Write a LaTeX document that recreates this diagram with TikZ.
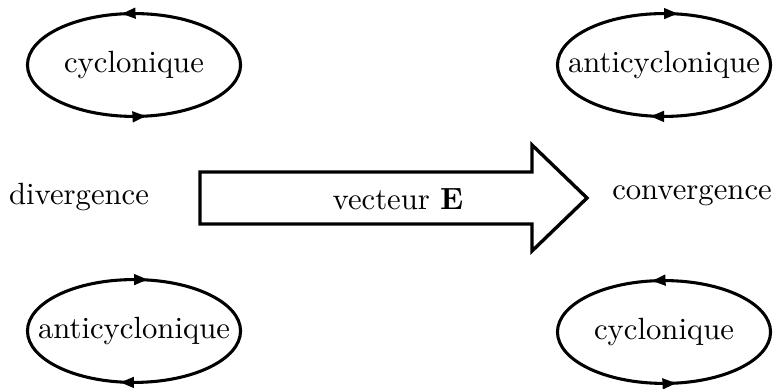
\documentclass[tikz,border=0pt]{standalone}
\usetikzlibrary{arrows.meta,decorations.markings,shapes.geometric}
\begin{document}
\begin{tikzpicture}[x=0.3257pt,y=-0.3257pt,
  vortex/.style={ellipse,draw,line width=1pt,minimum width=69.4pt,
    minimum height=33.5pt,inner sep=0pt,postaction={decorate},
    label={[inner sep=0pt]center:#1}},
  spin/.style 2 args={decoration={markings,
    mark=at position {0.25+#1} with {\arrow{#2}},
    mark=at position {0.75+#1} with {\arrow{#2}}}},
  cyclo/.style={vortex={#1},spin={0.024}{Triangle[length=4.5pt,width=3.4pt]}},
  anticyclo/.style={vortex={#1},spin={0}{Triangle[length=4.5pt,width=3.4pt,reversed]}},
  txt/.style={anchor=base,inner sep=0pt},
  bigarrow/.style={draw,line width=1.1pt,line join=miter}]
  \useasboundingbox (0,0) rectangle (773,389);

  % eddies on the divergence side
  \node[cyclo=cyclonique]         (tl) at (134,65)  {};
  \node[anticyclo=anticyclonique] (bl) at (134,331) {};
  % eddies on the convergence side
  \node[anticyclo=anticyclonique] (tr) at (664,65)  {};
  \node[cyclo=cyclonique]         (br) at (664,332) {};

  \node[txt] (div)  at (79,205)  {divergence};
  \node[txt] (conv) at (692,200) {convergence};

  % broad arrow carrying the vector label
  \coordinate (a1) at (200,172);
  \coordinate (a2) at (532,172);
  \coordinate (a3) at (532,145);
  \coordinate (a4) at (587,198);
  \coordinate (a5) at (532,251);
  \coordinate (a6) at (532,224);
  \coordinate (a7) at (200,224);
  \draw[bigarrow] (a1) -- (a2) -- (a3) -- (a4) -- (a5) -- (a6) -- (a7) -- cycle;
  \node[txt] (vec) at (398,210) {vecteur $\mathbf{E}$};
\end{tikzpicture}
\end{document}
